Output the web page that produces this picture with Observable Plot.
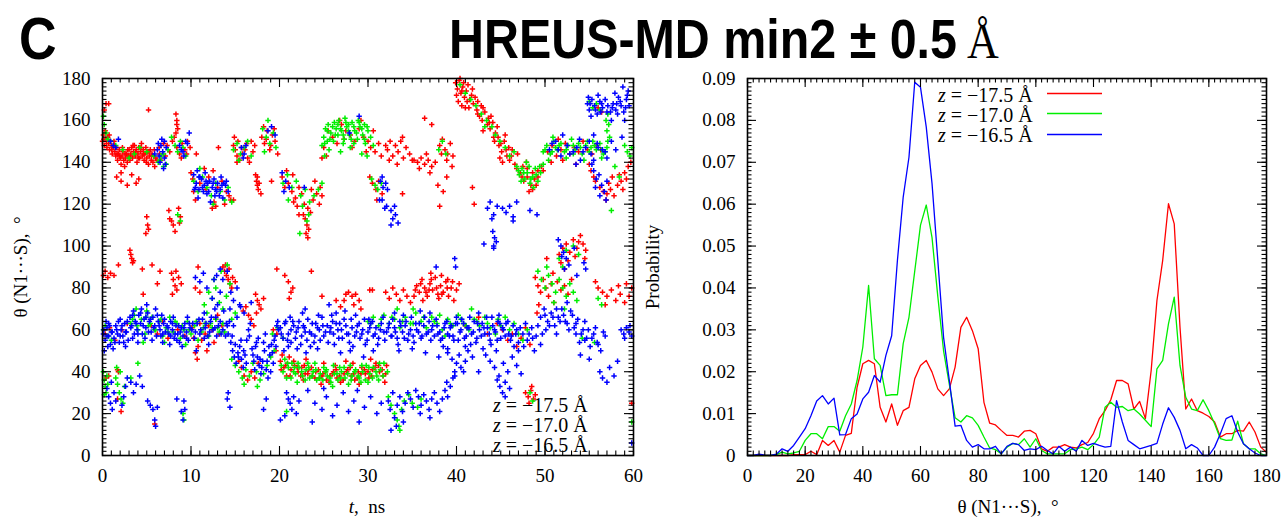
<!DOCTYPE html>
<html><head><meta charset="utf-8">
<script src="https://cdn.jsdelivr.net/npm/d3@7"></script>
<script src="https://cdn.jsdelivr.net/npm/@observablehq/plot@0.6"></script>
<style>
body{margin:0;background:#fff;}
#root{position:relative;width:1287px;height:517px;overflow:hidden;background:#fff;}
#root > svg{position:absolute;top:0;}
#overlay{position:absolute;left:0;top:0;pointer-events:none;}
</style></head><body><div id="root"></div>
<script>
// ---------- tick labels ----------
const timeTicks = [0,10,20,30,40,50,60];
const angleTicks = [0,20,40,60,80,100,120,140,160,180];
const thetaTicks = [0,20,40,60,80,100,120,140,160,180];
const probTicks = [0,0.01,0.02,0.03,0.04,0.05,0.06,0.07,0.08,0.09];
const seriesNames = ["z = −17.5 Å","z = −17.0 Å","z = −16.5 Å"];
const seriesColors = ["#ff0000","#00ee00","#0000ff"];

// ---------- scatter (t ns, theta deg) pairs ----------
const redUpper = [
0.0,150,0.1,153,0.2,148,0.3,155,0.4,151,0.5,147,0.6,152,0.7,149,0.8,146,0.9,150,1.0,148,1.1,144,1.2,147,1.3,150,1.4,145,1.5,143,1.6,147,1.7,141,1.8,144,1.9,146,2.0,142,2.1,139,2.2,143,2.3,145,2.4,141,2.5,138,2.6,142,2.7,144,2.8,140,2.9,143,3.0,146,3.1,141,3.2,144,3.3,147,3.4,142,3.5,145,3.6,148,3.7,143,3.8,146,3.9,140,4.0,144,4.1,147,4.2,142,4.3,145,4.4,149,4.5,143,4.6,146,4.7,141,4.8,144,4.9,147,5.0,142,5.1,145,5.2,139,5.3,143,5.4,146,5.5,141,5.6,144,5.7,140,5.8,143,5.9,138,6.0,142,
0.15,151,0.45,149,0.75,153,1.05,146,1.35,148,1.65,144,1.95,143,2.25,147,2.55,144,2.85,146,3.15,143,3.45,148,3.75,145,4.05,142,4.35,147,4.65,144,4.95,140,5.25,145,5.55,143,5.85,146,6.15,141,6.45,144,
0.2,165,0.4,168,0.7,168,5.2,165,2.1,135,3.3,134,3.8,130,4.1,132,2.1,131,2.8,129,1.6,133,
6.4,147,6.9,149,7.1,143,6.6,141,7.3,148,7.6,145,7.9,150,8.1,152,8.4,147,8.7,144,9.0,149,9.3,146,9.6,150,9.9,147,9.5,144,8.9,142,10.6,144,
8.3,163,8.4,160,8.4,158,8.5,156,8.3,154,
7.5,117,7.8,112,8.0,110,8.2,107,8.6,118,8.8,114,8.7,111,7.6,113,5.0,114,5.1,110,5.2,108,4.9,106,
10.0,135,10.2,132,10.3,126,10.5,122,11.0,130,11.5,137,12.0,133,12.5,136,12.6,121,12.8,119,13.0,128,13.5,131,13.8,120,14.0,126,14.3,124,14.5,122,12.4,118,14.8,122,13.1,147,11.7,127,
14.8,148,15.0,146,15.2,143,15.5,141,15.8,144,16.1,146,16.4,142,16.6,140,17.0,145,17.2,148,16.8,150,15.3,150,14.9,152,15.2,140,16.3,149,15.7,147,
18.0,152,18.3,149,18.6,155,18.9,146,19.2,153,19.5,150,19.8,144,18.2,157,19.0,148,18.5,151,19.4,156,
17.3,134,17.4,131,17.5,129,17.6,127,17.5,133,17.7,130,17.9,125,19.1,131,
20.3,133,20.6,128,21.0,130,21.4,126,21.8,123,22.2,128,22.5,125,22.8,120,23.2,118,23.5,116,23.8,122,24.2,125,24.5,120,24.8,124,21.5,134,22.9,113,23.1,110,23.0,106,22.7,115,23.3,108,24.6,128,22.0,119,21.6,121,22.2,115,23.2,104,20.8,136,23.6,127,24.0,131,
25.0,147,25.3,143,25.5,155,26.0,152,26.5,149,27.0,158,27.5,155,28.0,153,28.5,150,29.0,156,29.5,152,30.0,150,26.8,160,28.2,147,29.8,145,24.8,142,27.3,151,29.2,160,
30.3,147,30.8,145,31.2,149,31.5,143,30.5,130,30.9,127,31.2,131,31.6,125,30.2,133,31.0,122,30.6,155,
32.2,146,32.5,150,32.8,143,33.1,148,33.4,145,33.7,150,34.0,142,34.3,147,34.7,144,35.0,141,32.4,141,33.9,152,32.0,148,33.3,139,
35.2,141,35.6,140,36.0,142,36.4,139,36.8,141,37.2,138,37.6,140,35.8,137,36.6,144,37.0,135,
36.4,161,37.2,158,38.5,126,41.8,128,42.0,120,38.1,119,33.9,125,38.9,133,37.9,129,
38.1,148,38.4,151,38.7,146,39.0,144,39.3,149,39.6,143,38.9,141,39.5,138,38.3,144,
39.9,178,40.1,175,40.3,179,40.5,173,40.7,176,40.9,171,41.1,174,41.3,177,41.5,170,41.7,172,41.9,168,42.1,171,40.2,169,41.0,166,40.4,180,40.8,178,42.3,165,42.6,162,42.9,160,43.2,164,43.5,158,43.8,156,44.1,159,44.4,154,44.7,152,42.8,167,43.6,161,44.3,150,43.0,155,42.4,169,43.9,162,44.6,157,41.4,166,40.6,167,
40.0,172,40.6,174,41.2,169,41.8,175,42.4,163,43.0,166,43.7,159,44.2,152,
44.8,148,45.1,145,45.4,150,45.7,143,46.0,141,46.3,146,46.6,139,45.2,140,44.9,142,46.9,144,45.5,153,45.9,147,45.0,149,45.6,146,46.2,143,
47.2,135,47.6,131,48.0,133,48.4,129,48.8,132,49.2,136,49.6,138,47.5,138,48.6,127,48.2,126,47.9,140,49.0,129,46.8,137,47.4,133,48.0,137,48.6,135,49.2,133,49.8,136,
50.3,145,50.8,148,51.3,143,51.8,146,52.3,149,52.8,144,53.3,147,53.8,145,54.3,150,54.8,146,55.3,144,55.8,148,56.3,146,52.0,141,50.7,140,53.5,139,55.0,139,51.5,151,
55.2,136,55.5,133,55.7,131,
56.2,128,56.6,126,57.0,125,57.4,127,57.8,124,58.2,129,58.6,131,59.0,135,59.4,138,59.7,140,57.2,130,58.8,127,57.6,133,58.4,134,59.2,132,56.9,122,
56.0,166,56.4,164,
51.6,96,52.0,99,52.4,101,52.8,97,53.2,103,53.6,99,54.0,105,54.3,101,51.8,92,52.6,93,53.4,95,54.6,98,52.2,89,50.2,94,53.8,102,54.5,94
];
const redLower = [
0.1,86,0.3,88,0.6,85,0.9,87,1.3,86,1.8,91,3.1,98,3.2,96,3.3,94,3.4,92,3.5,93,4.5,89,5.6,91,6.2,82,6.5,88,7.8,87,8.0,84,8.2,81,8.4,79,8.6,85,8.9,82,8.3,88,7.9,77,10.8,90,10.5,80,11.0,78,
13.6,90,13.8,88,14.0,86,14.2,84,14.4,82,14.7,85,14.3,89,13.9,91,15.0,83,14.6,80,
17.3,77,17.5,74,17.7,72,17.9,70,18.2,75,17.4,68,
19.7,89,20.6,86,21.0,83,21.5,80,21.3,78,21.1,75,23.6,88,24.8,76,26.4,74,26.9,71,
27.5,77,27.8,78,28.2,76,28.6,77,29.0,74,28.4,72,29.2,70,27.3,74,30.2,79,
32.0,78,32.4,75,32.8,80,33.2,77,33.6,74,34.0,79,34.4,76,34.8,73,30.5,79,
35.5,81,35.8,78,36.1,84,36.4,80,36.7,76,37.0,82,37.3,79,37.6,85,37.9,77,38.2,81,38.5,78,38.8,83,39.1,76,39.4,80,39.7,74,36.2,74,37.1,87,38.3,86,40.0,79,40.3,82,35.2,76,36.9,79,38.0,75,39.0,84,
35.35,79,35.95,82,36.55,78,37.15,84,37.75,80,38.35,77,38.95,80,39.55,83,
48.9,85,49.2,81,49.5,78,49.8,84,50.1,80,50.4,76,50.7,82,51.0,73,49.3,72,50.9,87,49.1,68,51.4,83,51.8,79,52.2,81,52.6,77,53.0,84,
55.7,83,56.0,80,56.5,78,57.0,76,57.5,79,58.0,74,58.5,77,59.0,73,59.5,76,59.8,80,56.8,72,58.3,81,59.2,82,4.6,77,
0.3,58,0.8,61,1.4,55,2.2,60,2.8,63,5.5,62,6.2,58,6.8,64,7.4,56,8.5,60,9.3,57,
10.5,49,10.7,46,10.8,52,11.2,55,11.6,58,12.0,62,12.4,60,12.8,65,13.2,58,13.5,62,11.0,63,11.8,50,12.6,54,13.0,67,10.3,56,10.1,61,
15.9,69,16.2,71,16.5,67,16.8,65,17.1,62,
15.7,42,16.0,38,16.4,36,16.8,40,17.2,37,17.6,44,15.4,45,
20.1,45,20.5,42,20.9,44,21.3,41,21.7,43,22.1,40,22.5,42,22.9,39,23.3,41,23.7,38,24.1,40,24.5,37,24.9,39,25.3,36,25.7,38,26.1,40,26.5,37,26.9,35,27.3,39,27.7,41,28.1,38,28.5,36,28.9,40,29.3,42,29.7,39,30.1,37,30.5,41,30.9,44,31.3,40,31.7,38,32.1,43,20.3,48,21.1,47,22.7,36,24.7,34,26.3,43,28.3,44,30.3,46,31.9,35,19.6,50,20.8,38,25.0,44,27.5,45,29.0,34,23.0,46,
20.2,41,20.7,43,21.2,38,21.6,45,22.0,42,22.4,38,22.8,43,23.2,39,23.6,42,24.0,37,24.4,41,24.8,38,25.2,40,25.6,35,26.0,39,26.4,41,26.8,38,27.2,36,27.6,40,28.0,42,28.4,39,28.8,37,29.2,39,29.6,41,30.0,40,30.4,38,30.8,42,31.2,43,31.6,41,32.0,39,
19.3,60,19.7,58,41.0,62,42.5,66,43.5,58,
45.2,60,45.8,55,46.3,58,46.8,52,47.3,56,47.8,61,48.3,53,44.6,63,
47.8,30,48.1,28,48.4,31,48.7,27,48.2,25,48.9,29,48.5,33,
0.4,37,0.7,38,1.7,41,1.8,40,2.1,21,1.7,27,5.9,15,59.8,25
];
const greenUpper = [
0.1,162,0.2,158,0.4,154,0.6,151,0.9,150,1.5,148,2.3,146,3.0,142,3.6,144,4.2,147,5.0,145,5.8,143,6.3,140,6.6,143,6.9,138,6.5,141,6.9,144,7.2,139,7.4,146,
7.8,152,8.2,148,8.5,145,8.8,150,9.1,147,9.4,143,8.5,115,8.8,112,
10.3,131,10.8,126,11.3,133,11.8,128,12.3,124,12.8,130,13.3,126,13.8,122,14.2,128,14.6,121,12.5,120,11.0,137,
14.8,146,15.2,149,15.6,144,16.0,147,16.4,150,16.8,143,15.4,141,
18.1,156,18.5,152,18.9,149,19.3,154,19.6,147,18.7,160,18.3,145,
20.4,130,20.9,134,21.4,128,21.9,131,22.4,124,22.9,127,23.4,121,23.9,124,24.4,127,24.8,130,22.6,119,23.1,112,23.3,115,22.3,106,21.0,122,
24.8,148,25.0,152,25.2,156,25.5,158,25.8,154,26.1,150,26.4,156,26.7,160,27.0,155,27.3,151,27.6,157,27.9,153,28.2,159,28.5,155,28.8,151,29.1,157,29.4,153,29.7,149,30.0,155,25.6,146,26.9,145,28.0,147,29.3,144,25.1,143,27.4,161,29.9,143,30.3,152,30.6,148,26.2,159,27.8,158,28.9,160,25.4,150,26.6,153,27.2,149,28.4,149,29.6,158,
25.1,149,25.4,155,25.7,151,26.0,157,26.3,153,26.6,158,26.9,156,27.2,153,27.5,159,27.8,155,28.1,151,28.4,157,28.7,154,29.0,159,29.3,156,29.6,151,29.9,157,
30.4,132,30.8,129,31.1,127,31.5,130,
38.4,150,38.8,144,38.0,146,
40.4,177,41.0,173,41.6,170,42.2,167,42.8,163,43.4,160,44.0,157,44.4,153,43.2,157,
44.9,150,45.5,147,46.0,143,46.5,145,
46.8,138,47.1,134,47.4,137,47.7,132,48.0,135,48.3,130,48.6,133,48.9,137,49.2,131,49.5,135,49.8,139,47.9,140,48.7,128,47.3,131,48.2,138,49.0,134,47.0,136,47.6,135,48.4,132,49.4,138,
49.8,145,50.2,148,50.6,144,51.0,150,51.4,146,51.8,149,52.2,145,52.6,148,53.0,151,53.4,146,53.8,149,54.2,144,54.6,148,55.0,145,55.4,150,55.8,146,56.2,149,56.6,144,57.0,147,50.4,141,52.4,142,54.4,141,56.4,142,51.2,147,53.2,148,55.2,147,50.9,152,
50.0,146,50.8,145,51.6,148,52.4,146,53.2,144,54.0,147,54.8,150,55.6,148,56.4,146,
55.0,169,55.4,166,55.8,168,56.2,165,
56.9,160,57.0,155,57.1,150,56.8,145,57.2,158,57.3,152,57.1,163,
59.0,148,59.3,145,59.6,143,59.8,147,57.9,138,58.4,133,57.5,117
];
const greenLower = [
0.1,40,0.2,36,0.3,33,0.4,30,0.5,38,0.6,34,0.2,29,
1.5,37,1.7,34,1.9,30,2.1,27,2.3,25,2.0,40,2.5,33,1.6,42,3.2,37,4.0,44,
0.1,60,0.3,62,0.6,57,1.0,55,
3.2,63,3.6,67,4.0,60,4.4,65,4.8,58,5.2,62,5.6,66,6.0,60,6.4,64,6.8,57,7.2,61,7.6,66,8.0,59,8.4,63,8.8,56,9.2,60,9.6,64,10.0,58,10.4,62,10.8,55,11.2,59,11.6,63,12.0,57,12.4,61,12.8,65,13.2,59,13.6,63,4.6,54,7.0,54,9.4,53,5.0,69,3.8,70,
3.4,65,3.9,62,4.9,66,5.4,63,5.9,60,6.6,65,7.4,59,8.2,64,9.0,62,9.8,60,10.6,64,11.4,61,12.2,63,13.0,61,13.8,59,
9.1,20,9.2,17,
11.5,72,12.0,78,12.4,75,12.8,80,13.2,73,13.6,70,14.0,76,14.4,82,12.6,84,11.8,68,13.4,88,14.1,91,
14.6,65,15.0,68,
14.6,46,15.0,43,15.4,40,15.8,37,16.2,41,16.6,38,17.0,44,17.4,40,17.8,36,18.2,39,18.6,43,19.0,47,19.4,50,16.0,34,17.5,33,
19.2,58,19.8,61,20.4,56,
20.2,43,20.6,46,21.0,42,21.4,44,21.8,39,22.2,42,22.6,38,23.0,41,23.4,37,23.8,40,24.2,36,24.6,39,25.0,42,25.4,38,25.8,35,26.2,39,26.6,36,27.0,40,27.4,37,27.8,34,28.2,38,28.6,41,29.0,37,29.4,40,29.8,43,30.2,39,30.6,42,31.0,38,31.4,41,31.8,44,32.2,40,24.0,44,26.0,33,28.0,43,30.0,35,22.0,35,20.8,37,21.6,40,23.2,44,25.2,40,26.8,42,29.2,35,31.2,36,
20.4,40,20.9,44,21.3,37,21.7,42,22.1,44,22.5,40,22.9,36,23.3,42,23.7,38,24.1,41,24.5,37,24.9,36,25.3,41,25.7,37,26.1,43,26.5,39,26.9,37,27.3,42,27.7,39,28.1,36,28.5,40,28.9,38,29.3,43,29.7,36,30.1,42,30.5,37,30.9,40,31.3,44,31.7,38,
20.8,21,
30.0,64,30.6,66,31.2,62,31.8,67,32.4,63,33.0,65,33.6,61,34.2,66,34.8,63,35.4,68,36.0,64,36.6,61,37.2,66,37.8,63,38.4,60,39.0,65,39.6,62,40.2,67,40.8,63,41.4,60,42.0,65,42.6,62,43.2,66,43.8,61,44.4,58,45.0,62,33.3,70,35.1,70,41.7,70,38.7,57,
30.3,63,31.5,65,32.7,66,33.9,64,35.1,63,36.3,66,37.5,64,38.1,67,39.3,63,40.5,65,41.1,62,42.3,64,43.5,63,44.7,65,
45.5,66,46.0,60,46.5,63,47.0,58,47.5,55,48.0,60,
32.3,28,32.6,24,33.0,20,33.3,17,33.5,14,33.6,12,33.8,22,34.1,26,34.6,29,35.0,25,35.6,23,36.0,27,
49.2,88,49.6,84,50.0,80,50.4,86,50.8,82,51.2,78,51.6,84,52.0,80,52.4,76,52.8,82,53.2,78,53.6,74,50.2,90,51.0,73,52.2,70,
51.6,94,52.4,98,53.2,100,53.8,96,52.0,90,
54.2,56,55.6,54,56.0,75,56.4,72,
48.3,30,48.6,26,59.8,16
];
const blueUpper = [
0.9,150,1.2,148,1.5,147,1.8,151,
6.2,146,6.4,143,6.6,148,6.8,145,7.0,142,7.2,147,6.5,140,7.1,139,6.9,137,6.7,151,5.9,144,6.3,149,7.0,150,
8.7,148,9.1,145,9.4,150,9.2,143,9.8,154,8.9,146,9.6,149,
10.3,134,10.6,130,10.9,127,11.2,132,11.5,129,11.8,125,12.1,131,12.4,128,12.7,124,13.0,130,13.3,127,13.6,123,13.9,129,14.2,126,10.8,123,11.6,135,12.2,121,13.4,133,11.0,133,12.9,126,10.5,128,11.4,126,12.6,132,13.7,130,11.9,130,10.7,136,
10.4,127,10.9,133,11.3,128,11.7,131,12.0,126,12.5,130,12.8,127,13.2,124,13.5,129,14.0,131,
15.7,147,16.0,144,16.2,148,15.9,142,
18.7,155,19.1,157,19.5,153,
20.3,135,20.7,131,21.1,128,20.5,126,22.8,128,
29.0,162,27.9,154,
31.4,131,31.7,128,32.0,130,32.2,127,31.6,133,31.6,122,32.1,119,32.6,117,32.8,113,33.1,115,32.6,110,33.4,111,33.0,119,31.9,118,31.3,122,
43.1,101,43.5,118,43.8,121,44.0,113,44.2,115,44.6,119,44.1,107,44.3,104,44.5,102,44.2,99,45.2,118,45.6,116,46.0,119,46.4,114,46.8,121,48.3,117,49.1,115,46.4,112,44.2,100,
50.5,146,51.2,150,51.8,143,52.5,148,53.2,145,53.9,151,54.6,147,55.2,144,55.9,149,56.5,146,57.0,142,52.0,153,54.0,141,55.5,153,53.5,139,
50.8,149,51.5,146,52.8,144,53.6,147,54.3,145,55.0,150,56.0,147,56.8,145,
54.8,168,55.0,165,55.3,170,55.6,167,55.9,163,56.2,169,56.5,166,56.8,170,57.1,167,57.4,164,57.7,168,58.0,165,58.3,171,58.6,167,58.9,164,59.2,170,59.4,174,57.9,173,55.2,162,56.0,172,58.8,176,59.0,160,57.5,160,54.9,171,56.3,164,58.1,168,59.5,167,
55.1,168,55.7,165,56.4,168,57.0,164,57.6,166,58.2,163,58.5,169,59.1,166,59.3,172,
55.5,136,55.8,132,56.1,134,56.4,129,56.7,126,56.2,124,55.7,128,57.0,131,56.9,122,55.3,139,55.5,141,
57.5,150,58.0,146,58.7,152,
51.5,103,51.8,100,52.1,97,52.4,94,52.7,91,52.2,89,51.9,95,53.3,99,53.6,86,54.4,92,54.6,89,39.8,94,39.9,90,37.7,90
];
const blueLower = [
0.1,58,0.3,55,0.5,61,0.7,57,0.9,53,1.1,59,1.3,56,1.5,62,1.7,58,1.9,54,2.1,60,2.3,57,2.5,63,2.7,59,2.9,55,0.4,64,1.2,51,2.0,65,2.6,52,0.2,50,0.8,62,
0.15,60,0.5,57,0.7,63,1.0,59,1.4,54,1.6,60,2.0,57,2.2,62,2.6,59,2.8,64,0.6,52,1.8,64,2.4,54,
3.1,66,3.3,62,3.5,69,3.7,64,3.9,60,4.1,67,4.3,63,4.5,58,4.7,65,4.9,61,5.1,68,5.3,64,5.5,59,5.7,66,5.9,62,6.1,57,6.3,64,6.5,60,6.7,67,6.9,63,7.1,59,3.4,56,4.4,70,5.6,55,6.8,54,4.0,54,5.0,72,
3.2,61,3.4,67,3.8,63,4.0,58,4.3,68,4.6,62,4.9,66,5.2,59,5.4,65,5.8,61,6.2,67,6.4,62,6.8,58,7.0,65,3.6,58,4.8,56,6.0,70,6.6,57,
7.3,62,7.5,58,7.7,64,7.9,60,8.1,56,8.3,62,8.5,58,8.7,54,8.9,61,9.1,57,9.3,63,9.5,59,9.7,55,9.9,61,8.0,66,9.0,52,7.6,53,
7.4,61,7.7,57,7.9,63,8.2,58,8.6,62,8.8,59,9.2,61,9.5,56,9.8,63,8.4,55,9.6,66,
10.1,60,10.4,56,10.7,63,11.0,58,11.3,65,11.6,61,11.9,57,12.2,64,12.5,60,12.8,66,13.1,62,13.4,58,13.7,69,14.0,63,10.6,50,12.0,53,13.0,72,12.4,75,11.8,80,12.6,84,13.3,78,
10.2,63,10.5,59,10.9,65,11.1,60,11.5,56,11.7,63,12.1,59,12.3,66,12.7,61,12.9,57,13.3,64,13.6,60,13.9,57,14.1,62,11.5,68,12.7,70,
10.5,85,11.0,83,11.4,87,12.9,86,13.3,89,13.6,84,14.1,88,14.5,78,14.8,74,15.2,80,15.5,72,
14.2,58,14.5,54,14.7,50,14.9,47,15.1,44,15.3,49,15.5,52,15.7,46,15.9,42,16.1,48,16.3,55,16.5,60,16.7,63,16.9,51,17.1,45,14.8,62,15.2,66,16.0,68,14.4,70,15.6,71,16.8,73,
14.35,64,14.65,57,15.0,53,15.35,47,15.65,55,15.95,50,16.25,44,16.6,57,17.0,48,17.2,41,17.4,54,17.8,46,18.0,42,18.2,54,18.6,45,18.8,52,19.0,40,19.2,49,19.4,55,19.6,52,19.8,64,
17.3,52,17.5,47,17.7,43,17.9,39,18.1,45,18.3,50,18.5,41,18.7,37,18.9,48,19.1,53,19.3,44,17.6,56,18.4,58,19.5,57,19.7,62,19.9,60,
20.1,61,20.4,56,20.7,64,21.0,58,21.3,54,21.6,62,21.9,59,22.2,64,22.5,57,22.8,61,23.1,55,23.4,59,23.7,63,24.0,57,24.3,61,24.6,55,24.9,62,25.2,59,25.5,54,25.8,61,26.1,58,26.4,63,26.7,56,27.0,60,27.3,65,27.6,58,27.9,54,28.2,61,28.5,57,28.8,62,29.1,56,29.4,60,29.7,53,30.0,59,30.3,63,30.6,57,30.9,61,31.2,56,31.5,63,31.8,59,21.2,66,23.5,52,25.9,67,28.0,50,30.1,65,22.0,51,26.9,49,29.5,47,24.4,67,27.4,69,22.9,70,25.6,72,
20.2,58,20.6,63,20.9,55,21.3,60,21.5,64,21.8,56,22.1,61,22.4,53,22.7,62,22.9,59,23.2,65,23.6,58,23.9,54,24.1,63,24.5,60,24.8,66,25.0,57,25.4,62,25.7,59,26.0,64,26.2,53,26.6,60,26.8,63,27.1,56,27.5,62,27.8,58,28.1,65,28.3,52,28.7,59,29.0,63,29.3,58,29.6,65,29.9,55,30.2,61,30.5,64,30.8,58,31.1,53,31.4,60,31.7,66,31.9,55,20.5,50,22.6,68,24.3,51,26.4,68,28.6,67,30.6,50,21.0,52,23.0,49,
32.1,59,32.4,63,32.7,57,33.0,61,33.3,56,33.6,64,33.9,59,34.2,62,34.5,55,34.8,60,35.1,57,35.4,63,35.7,59,36.0,56,36.3,62,36.6,58,36.9,64,37.2,60,37.5,57,37.8,62,38.1,59,38.4,56,38.7,63,39.0,58,39.3,61,39.6,57,39.9,63,40.2,55,40.5,60,40.8,63,41.1,57,41.4,61,41.7,58,42.0,64,42.3,56,42.6,60,42.9,63,43.2,58,43.5,61,43.8,55,44.1,62,44.4,59,44.7,64,45.0,56,45.3,60,45.6,63,45.9,58,33.5,50,35.0,51,36.5,49,38.0,47,34.0,67,37.0,68,40.0,66,42.5,68,44.0,66,46.2,57,46.5,52,46.8,60,
32.3,61,32.6,57,32.8,65,33.1,59,33.4,53,33.7,62,34.1,56,34.3,64,34.6,58,34.9,66,35.2,54,35.5,60,35.8,63,36.1,57,36.4,66,36.8,59,37.1,55,37.3,62,37.7,65,37.9,58,38.2,55,38.6,61,38.9,64,39.2,57,39.4,62,39.7,55,40.1,63,40.4,59,40.6,65,40.9,56,41.2,61,41.5,66,41.9,59,42.2,54,42.4,63,42.8,57,43.1,61,43.4,66,43.7,58,43.9,53,44.3,60,44.6,55,44.9,63,45.2,61,45.5,57,45.8,64,33.0,68,35.9,69,39.0,51,41.0,52,43.0,51,44.8,67,
38.5,52,39.0,49,39.5,46,40.0,44,40.5,42,41.0,45,40.3,48,40.8,40,41.3,50,41.6,53,39.8,38,41.8,47,
43.3,48,43.8,45,44.3,42,44.8,38,45.3,44,45.8,40,46.3,47,46.8,43,47.3,39,44.5,50,45.5,35,46.0,32,47.0,50,42.5,40,
44.6,36,44.9,33,45.2,30,45.5,28,
47.5,58,48.0,55,48.5,61,49.0,57,49.5,53,47.8,63,48.8,50,
46.1,55,46.4,62,46.7,58,47.0,54,47.2,61,47.6,52,48.2,58,48.6,56,49.2,62,49.7,58,
49.5,66,49.9,70,50.3,64,50.7,68,51.1,62,51.5,66,51.9,70,52.3,64,52.7,60,53.1,67,53.5,63,50.1,60,51.3,58,52.5,73,
50.0,67,50.5,62,50.9,66,51.3,70,51.7,64,52.1,67,52.5,63,52.9,69,53.3,61,53.7,65,
53.5,58,53.9,54,54.3,60,54.7,56,55.1,52,55.5,58,55.9,54,56.3,50,54.0,48,55.0,46,56.8,57,54.5,64,
54.1,58,54.5,55,54.9,60,55.3,56,55.7,61,56.0,53,56.6,59,
56.2,40,56.5,37,57.0,35,57.3,42,57.8,38,58.2,45,
58.6,60,58.9,58,59.2,61,59.5,59,59.8,57,59.0,56,59.6,62,59.8,6,
0.5,32,0.7,28,0.9,25,1.1,22,1.3,30,1.5,26,2.4,28,2.6,33,2.8,37,3.2,35,3.5,30,3.8,34,4.2,38,4.5,33,1.0,35,2.2,24,
5.1,26,5.4,24,5.7,22,5.9,17,6.0,14,6.2,23,
8.4,27,8.9,21,9.1,17,9.3,22,9.2,26,
14.2,30,14.4,23,14.1,27,18.2,22,18.5,27,20.1,17,
20.8,30,21.0,27,21.2,25,21.4,22,21.6,28,21.9,20,22.2,26,20.6,19,
23.2,31,24.0,25,24.8,22,25.3,28,26.0,19,26.5,24,27.2,30,27.8,21,28.4,26,29.0,16,29.6,23,30.3,28,31.0,20,31.5,25,25.0,32,28.8,31,23.7,16,
32.3,26,32.5,22,32.8,30,33.0,18,33.3,24,33.6,28,33.9,21,34.2,25,34.5,30,34.8,27,35.1,23,35.4,31,35.7,28,36.0,24,36.3,29,36.6,26,36.9,22,37.2,27,37.5,30,37.8,25,38.1,21,38.4,27,38.7,31,39.0,28,39.3,33,39.6,37,39.8,40,33.2,14,34.0,16,37.0,18,32.6,12,35.9,20,38.9,35
];

// ---------- probability distributions ----------
const thetaBins = [0,2,4,6,8,10,12,14,16,18,20,22,24,26,28,30,32,34,36,38,40,42,44,46,48,50,52,54,56,58,60,62,64,66,68,70,72,74,76,78,80,82,84,86,88,90,92,94,96,98,100,102,104,106,108,110,112,114,116,118,120,122,124,126,128,130,132,134,136,138,140,142,144,146,148,150,152,154,156,158,160,162,164,166,168,170,172,174,176,178,180];
const probRed = [0,0,0,0,0,0,0,0,0.0002,0.0002,0.0002,0.0010,0.0002,0.0036,0.0024,0.0036,0.0008,0.0048,0.0053,0.0163,0.0219,0.0227,0.0219,0.0115,0.0080,0.0123,0.0072,0.0107,0.0115,0.0183,0.0215,0.0227,0.0199,0.0159,0.0143,0.0159,0.0211,0.0306,0.0330,0.0298,0.0255,0.0127,0.0077,0.0073,0.0060,0.0048,0.0048,0.0044,0.0058,0.0060,0.0052,0.0016,0.0010,0.0020,0.0020,0.0026,0.0020,0.0018,0.0026,0.0031,0.0053,0.0088,0.0107,0.0133,0.0179,0.0179,0.0171,0.0111,0.0129,0.0088,0.0203,0.0370,0.0466,0.0601,0.0553,0.0306,0.0111,0.0135,0.0107,0.0101,0.0093,0.0080,0.0044,0.0052,0.0052,0.0060,0.0058,0.0080,0.0056,0.0020,0.0008];
const probGreen = [0,0,0,0,0,0.0002,0.0008,0.0004,0.0006,0.0010,0.0036,0.0052,0.0052,0.0040,0.0069,0.0069,0.0058,0.0095,0.0123,0.0179,0.0259,0.0406,0.0231,0.0215,0.0143,0.0145,0.0145,0.0267,0.0330,0.0440,0.0550,0.0598,0.0520,0.0380,0.0250,0.0170,0.0090,0.0080,0.0095,0.0090,0.0072,0.0044,0.0018,0.0014,0.0004,0.0020,0.0029,0.0026,0.0040,0.0020,0.0040,0.0012,0.0004,0.0004,0.0004,0.0004,0.0014,0.0016,0.0020,0.0014,0.0026,0.0044,0.0115,0.0127,0.0115,0.0117,0.0107,0.0111,0.0099,0.0084,0.0069,0.0207,0.0227,0.0314,0.0378,0.0215,0.0139,0.0111,0.0107,0.0133,0.0107,0.0076,0.0040,0.0036,0.0037,0.0082,0.0028,0.0016,0.0016,0.0004,0];
const probBlue = [0,0,0.0003,0.0001,0,0.0003,0.0016,0.0010,0.0024,0.0044,0.0064,0.0095,0.0130,0.0143,0.0123,0.0137,0.0049,0.0050,0.0088,0.0099,0.0135,0.0151,0.0191,0.0175,0.0239,0.0286,0.0466,0.0617,0.0712,0.0891,0.0879,0.0784,0.0649,0.0466,0.0282,0.0179,0.0070,0.0072,0.0036,0.0020,0.0026,0.0016,0.0016,0.0022,0.0004,0.0022,0.0029,0.0026,0.0012,0.0016,0.0014,0.0022,0.0012,0.0004,0.0022,0.0010,0.0020,0.0010,0.0036,0.0024,0.0029,0.0024,0.0020,0.0022,0.0131,0.0080,0.0036,0.0026,0.0016,0.0020,0.0024,0.0029,0.0075,0.0114,0.0091,0.0060,0.0016,0.0026,0.0018,0,0,0.0020,0.0052,0.0088,0.0095,0.0056,0.0028,0.0016,0.0006,0,0];

// ---------- helpers ----------
function pairs(a){const o=[];for(let i=0;i+1<a.length;i+=2)o.push({t:a[i],theta:a[i+1]});return o;}
function dist(p){return thetaBins.map((th,i)=>({theta:th,p:p[i]}));}
const plusSym = {draw(ctx,size){const r=Math.sqrt(size/Math.PI);ctx.moveTo(-r,0);ctx.lineTo(r,0);ctx.moveTo(0,-r);ctx.lineTo(0,r);}};
const serif = '"Liberation Serif","Times New Roman",serif';

function frameTicks(xMaj,xMin,yMaj,yMin,fw,fh){
  const M=9, m=4.5, s={stroke:"black",strokeWidth:1.1};
  return [
    Plot.tickX(xMaj,{...s,insetTop:fh-M}), Plot.tickX(xMaj,{...s,insetBottom:fh-M}),
    Plot.tickX(xMin,{...s,insetTop:fh-m}), Plot.tickX(xMin,{...s,insetBottom:fh-m}),
    Plot.tickY(yMaj,{...s,insetRight:fw-M}), Plot.tickY(yMaj,{...s,insetLeft:fw-M}),
    Plot.tickY(yMin,{...s,insetRight:fw-m}), Plot.tickY(yMin,{...s,insetLeft:fw-m})
  ];
}

const root = document.getElementById("root");
const dotOpts = {x:"t",y:"theta",r:2.7,symbol:plusSym,fill:"none",strokeWidth:1.5};

// ---------- left panel ----------
const LW=643, LH=517, LmL=102, LmR=10, LmT=78, LmB=62;
const left = Plot.plot({
  width:LW, height:LH, marginLeft:LmL, marginRight:LmR, marginTop:LmT, marginBottom:LmB,
  style:{fontFamily:serif,fontSize:"19px",color:"black",background:"transparent",overflow:"visible"},
  x:{domain:[0,60],label:null}, y:{domain:[0,180],label:null},
  marks:[
    Plot.axisX(timeTicks,{tickSize:0,tickPadding:13,label:null}),
    Plot.axisY(angleTicks,{tickSize:0,tickPadding:12,label:null}),
    Plot.dot(pairs(redUpper).concat(pairs(redLower)),{...dotOpts,stroke:seriesColors[0]}),
    Plot.dot(pairs(greenUpper).concat(pairs(greenLower)),{...dotOpts,stroke:seriesColors[1]}),
    Plot.dot(pairs(blueUpper).concat(pairs(blueLower)),{...dotOpts,stroke:seriesColors[2]}),
    ...frameTicks(timeTicks,d3.range(0,61,1),angleTicks,d3.range(0,181,2),LW-LmL-LmR,LH-LmT-LmB),
    Plot.frame({stroke:"black",strokeWidth:1.6})
  ]
});
left.style.left="0px";
root.appendChild(left);

// ---------- right panel ----------
const RW=644, RH=517, RmL=104, RmR=21, RmT=78, RmB=62;
const right = Plot.plot({
  width:RW, height:RH, marginLeft:RmL, marginRight:RmR, marginTop:RmT, marginBottom:RmB,
  style:{fontFamily:serif,fontSize:"19px",color:"black",background:"transparent",overflow:"visible"},
  x:{domain:[0,180],label:null}, y:{domain:[0,0.09],label:null},
  marks:[
    Plot.axisX(thetaTicks,{tickSize:0,tickPadding:13,label:null}),
    Plot.axisY(probTicks,{tickSize:0,tickPadding:12,label:null,tickFormat:d=>d===0?"0":d.toFixed(2)}),
    Plot.line(dist(probRed),{x:"theta",y:"p",stroke:seriesColors[0],strokeWidth:1.3}),
    Plot.line(dist(probGreen),{x:"theta",y:"p",stroke:seriesColors[1],strokeWidth:1.3}),
    Plot.line(dist(probBlue),{x:"theta",y:"p",stroke:seriesColors[2],strokeWidth:1.3}),
    ...frameTicks(thetaTicks,d3.range(0,181,2),probTicks,d3.range(0,91,1).map(i=>i/1000),RW-RmL-RmR,RH-RmT-RmB),
    Plot.frame({stroke:"black",strokeWidth:1.6})
  ]
});
right.style.left="643px";
root.appendChild(right);

// ---------- overlay texts ----------
const NS="http://www.w3.org/2000/svg";
const ov=document.createElementNS(NS,"svg");
ov.setAttribute("id","overlay");ov.setAttribute("width",1287);ov.setAttribute("height",517);
root.appendChild(ov);
function txt(x,y,parts,opts={}){
  const t=document.createElementNS(NS,"text");
  t.setAttribute("x",x);t.setAttribute("y",y);
  t.setAttribute("font-family",opts.family||serif);
  t.setAttribute("font-size",opts.size||19);
  if(opts.weight)t.setAttribute("font-weight",opts.weight);
  if(opts.anchor)t.setAttribute("text-anchor",opts.anchor);
  if(opts.transform)t.setAttribute("transform",opts.transform);
  if(opts.len){t.setAttribute("textLength",opts.len);t.setAttribute("lengthAdjust","spacingAndGlyphs");}
  t.setAttribute("fill","black");
  t.style.whiteSpace="pre";
  for(const p of parts){
    const s=document.createElementNS(NS,"tspan");
    s.textContent=p.text;
    if(p.italic)s.setAttribute("font-style","italic");
    if(p.family)s.setAttribute("font-family",p.family);
    if(p.weight)s.setAttribute("font-weight",p.weight);
    t.appendChild(s);
  }
  ov.appendChild(t);return t;
}
const sansB='"Liberation Sans",Arial,Helvetica,sans-serif';
txt(0,0,[{text:"C"}],{family:sansB,weight:"bold",size:52,transform:"translate(19,59) scale(1,1.15)"});
txt(0,0,[{text:"HREUS-MD min2 ± 0.5"}],{family:sansB,weight:"bold",size:48,len:508,transform:"translate(449,58) scale(1,1.14)"});
txt(0,0,[{text:"Å"}],{size:44,transform:"translate(967,58) scale(1,1.14)"});

function legendParts(name){const rest=name.slice(1);return [{text:"z",italic:true},{text:rest}];}
// left legend (text only)
[412,432,452].forEach((y,i)=>txt(493,y,legendParts(seriesNames[i]),{size:20}));
// right legend (text + line samples)
[102,122,142].forEach((y,i)=>txt(938,y,legendParts(seriesNames[i]),{size:20}));
[93.5,113.5,134.5].forEach((y,i)=>{
  const l=document.createElementNS(NS,"line");
  l.setAttribute("x1",1047);l.setAttribute("x2",1102);l.setAttribute("y1",y);l.setAttribute("y2",y);
  l.setAttribute("stroke",seriesColors[i]);l.setAttribute("stroke-width",1.4);
  ov.appendChild(l);
});
// axis titles
txt(367,513,[{text:"t",italic:true},{text:",  ns"}],{anchor:"middle"});
txt(1008,513,[{text:"θ (N1···S),  °"}],{anchor:"middle"});
txt(0,0,[{text:"θ (N1···S),  °"}],{anchor:"middle",transform:"translate(27,267) rotate(-90)"});
txt(0,0,[{text:"Probability"}],{anchor:"middle",transform:"translate(659,267) rotate(-90)"});
</script>
</body></html>
